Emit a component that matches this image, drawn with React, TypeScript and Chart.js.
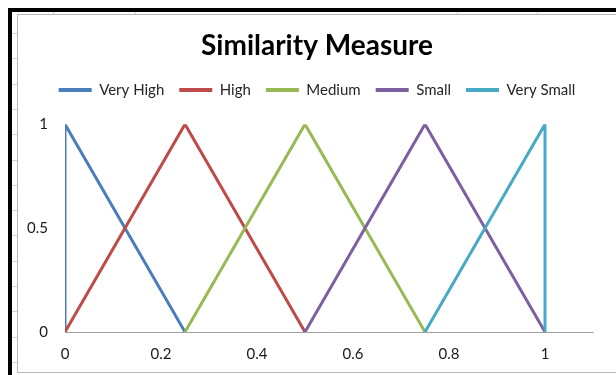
import React, { useEffect, useRef } from "react";
import { Chart, registerables } from "chart.js";

Chart.register(...registerables);

const seriesLabels = ["Very High", "High", "Medium", "Small", "Very Small"];
const seriesColors = ["#4A7EBB", "#BE4B48", "#98B954", "#7D60A0", "#46AAC5"];

const veryHighX = [0, 0, 0.25];
const veryHighY = [0, 1, 0];
const highX = [0, 0.25, 0.5];
const highY = [0, 1, 0];
const mediumX = [0.25, 0.5, 0.75];
const mediumY = [0, 1, 0];
const smallX = [0.5, 0.75, 1];
const smallY = [0, 1, 0];
const verySmallX = [0.75, 1, 1];
const verySmallY = [0, 1, 0];

const seriesX = [veryHighX, highX, mediumX, smallX, verySmallX];
const seriesY = [veryHighY, highY, mediumY, smallY, verySmallY];

const xTickLabels = ["0", "0.2", "0.4", "0.6", "0.8", "1"];
const yTickLabels = ["0", "0.5", "1"];

const FONT = "Lato, 'Open Sans', sans-serif";

export default function App() {
  const canvasRef = useRef<HTMLCanvasElement | null>(null);

  useEffect(() => {
    const canvas = canvasRef.current;
    if (!canvas) return;
    const datasets = seriesLabels.map((label, i) => ({
      label,
      data: seriesX[i].map((x, j) => ({ x, y: seriesY[i][j] })),
      borderColor: seriesColors[i],
      backgroundColor: seriesColors[i],
      borderWidth: 3,
      pointRadius: 0,
      tension: 0,
      fill: false,
      order: seriesLabels.length - i,
    }));
    const chart = new Chart(canvas, {
      type: "line",
      data: { datasets },
      options: {
        animation: false,
        responsive: false,
        maintainAspectRatio: false,
        layout: { padding: 0 },
        plugins: {
          tooltip: { enabled: false },
          title: {
            display: true,
            text: "Similarity Measure",
            color: "#000000",
            font: { family: FONT, size: 28, weight: "bold" },
            padding: { top: 14, bottom: 5 },
          },
          subtitle: {
            display: true,
            text: "",
            position: "top",
            weight: 500,
            font: { size: 8 },
            padding: { top: 0, bottom: 7 },
          } as any,
          legend: {
            display: true,
            position: "top",
            labels: {
              boxWidth: 33,
              boxHeight: 4,
              padding: 15,
              color: "#262626",
              font: { family: FONT, size: 15 },
              sort: (a: any, b: any) => a.datasetIndex - b.datasetIndex,
              generateLabels: (c: any) =>
                (Chart.defaults.plugins.legend.labels as any)
                  .generateLabels(c)
                  .map((l: any) => ({ ...l, lineWidth: 0, fillStyle: l.strokeStyle })),
            },
          },
        },
        scales: {
          x: {
            type: "linear",
            min: 0,
            max: 1.1,
            grid: { display: false, drawTicks: false },
            border: { display: true, color: "#a0a0a0", width: 1 },
            ticks: {
              stepSize: 0.2,
              includeBounds: false,
              color: "#1a1a1a",
              padding: 13,
              font: { family: FONT, size: 15 },
              callback: (v: any) => {
                const idx = Math.round(Number(v) / 0.2);
                return xTickLabels[idx] ?? "";
              },
            },
            afterFit: (s: any) => {
              s.height = 40;
            },
          },
          y: {
            type: "linear",
            min: 0,
            max: 1,
            grid: { display: false, drawTicks: false },
            border: { display: false },
            ticks: {
              stepSize: 0.5,
              color: "#1a1a1a",
              padding: 17,
              font: { family: FONT, size: 15 },
              callback: (v: any) => {
                const idx = Math.round(Number(v) / 0.5);
                return yTickLabels[idx] ?? "";
              },
            },
            afterFit: (s: any) => {
              s.width = 47;
            },
          },
          yRightGap: {
            type: "linear",
            position: "right",
            min: 0,
            max: 1,
            grid: { display: false, drawTicks: false },
            border: { display: false },
            ticks: { display: false },
            afterFit: (s: any) => {
              s.width = 23;
            },
          },
        },
      },
    });
    return () => chart.destroy();
  }, []);

  const rowMarks: number[] = [];
  for (let y = 33; y < 375; y += 25.3) rowMarks.push(Math.round(y));
  const colMarks = [53, 135, 457, 537];

  return (
    <div
      style={{
        position: "fixed",
        left: 0,
        top: 0,
        width: 616,
        height: 375,
        overflow: "hidden",
        background: "#ffffff",
      }}
    >
      {rowMarks.map((y) => (
        <div key={"r" + y} style={{ position: "absolute", left: 12, top: y, width: 5, height: 1, background: "#d4d4d4" }} />
      ))}
      {colMarks.map((x) => (
        <div key={"c" + x} style={{ position: "absolute", left: x, top: 12, width: 1, height: 2, background: "#d4d4d4" }} />
      ))}
      <div style={{ position: "absolute", left: 8, top: 8, width: 608, height: 4, background: "#000" }} />
      <div style={{ position: "absolute", left: 8, top: 8, width: 4, height: 367, background: "#000" }} />
      <div
        style={{
          position: "absolute",
          left: 17,
          top: 14,
          width: 620,
          height: 357,
          border: "1px solid #b8b8b8",
          background: "#fff",
        }}
      />
      <canvas
        ref={canvasRef}
        width={598}
        height={357}
        style={{ position: "absolute", left: 18, top: 15, width: 598, height: 357 }}
      />
    </div>
  );
}
